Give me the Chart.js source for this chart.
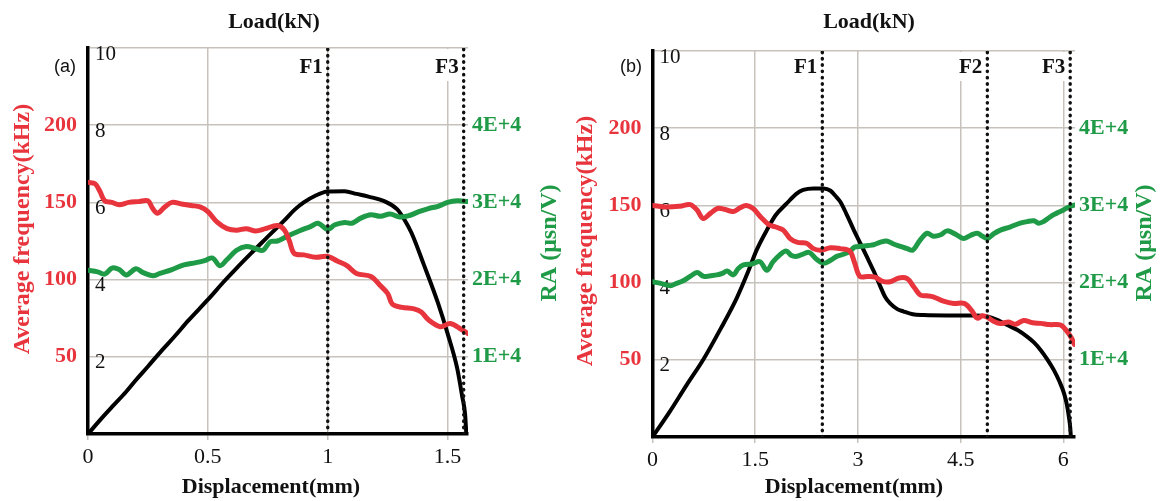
<!DOCTYPE html>
<html>
<head>
<meta charset="utf-8">
<title>Load, average frequency and RA versus displacement</title>
<script src="https://cdn.jsdelivr.net/npm/chart.js@4.4.1/dist/chart.umd.min.js"></script>
<style>
    html, body { margin: 0; padding: 0; background: #fff; }
    #wrap { position: relative; width: 1161px; height: 501px; overflow: hidden; }
    #wrap canvas { position: absolute; top: 0; }
    #chartA { left: 0; }
    #chartB { left: 570px; }
</style>
</head>
<body>
<div id="wrap">
    <canvas id="chartA" width="570" height="501"></canvas>
    <canvas id="chartB" width="591" height="501"></canvas>
</div>
<script>
// ----------------------------------------------------------------------------
// Tick values shared by both panels
// ----------------------------------------------------------------------------
var loadTicks = [2, 4, 6, 8, 10];          // kN
var freqTicks = [50, 100, 150, 200];       // kHz
var raTicks = [10000, 20000, 30000, 40000]; // usn/V
var dispTicksA = [0, 0.5, 1, 1.5];
var dispTicksB = [0, 1.5, 3, 4.5, 6];

// ----------------------------------------------------------------------------
// Panel (a): [displacement mm, value]
// ----------------------------------------------------------------------------
var loadA = [
    [0, 0], [0.05, 0.36], [0.1, 0.7], [0.16, 1.1], [0.2, 1.4], [0.25, 1.75],
    [0.31, 2.18], [0.36, 2.52], [0.42, 2.95], [0.5, 3.48], [0.57, 3.97],
    [0.62, 4.3], [0.68, 4.68], [0.74, 5.05], [0.82, 5.54], [0.86, 5.8],
    [0.9, 6.0], [0.95, 6.18], [1.0, 6.28], [1.07, 6.29], [1.12, 6.22],
    [1.17, 6.15], [1.24, 6.02], [1.29, 5.82], [1.32, 5.55], [1.35, 5.2],
    [1.4, 4.4], [1.46, 3.39], [1.5, 2.6], [1.54, 1.7], [1.56, 1.0],
    [1.573, 0.5], [1.578, 0]
];
var freqA = [
    [0, 163], [0.03, 162], [0.05, 157], [0.07, 151], [0.1, 150], [0.13, 148.5],
    [0.17, 150], [0.21, 150.5], [0.25, 151], [0.27, 146], [0.29, 143],
    [0.32, 147], [0.35, 150], [0.39, 149], [0.43, 148], [0.47, 147],
    [0.5, 144], [0.54, 137], [0.58, 133], [0.62, 132], [0.66, 133],
    [0.7, 131.5], [0.74, 133], [0.79, 135], [0.82, 132], [0.84, 125],
    [0.86, 117], [0.9, 116], [0.95, 114.5], [1.0, 115], [1.04, 112],
    [1.08, 109], [1.12, 104], [1.18, 102], [1.22, 96], [1.25, 91],
    [1.27, 84], [1.31, 82], [1.36, 81], [1.39, 79], [1.42, 74], [1.47, 69.5],
    [1.51, 71.5], [1.55, 68.5], [1.585, 65]
];
var raA = [
    [0, 21200], [0.04, 21000], [0.07, 20700], [0.1, 21500], [0.13, 21300],
    [0.16, 20600], [0.2, 21400], [0.23, 20900], [0.27, 20500], [0.3, 20800],
    [0.35, 21300], [0.4, 21900], [0.45, 22200], [0.49, 22500], [0.52, 22800],
    [0.55, 21800], [0.58, 22600], [0.62, 23800], [0.66, 24300], [0.7, 24000],
    [0.73, 23800], [0.76, 24900], [0.79, 25000], [0.83, 25600], [0.88, 26300],
    [0.93, 26900], [0.96, 27300], [1.0, 26500], [1.03, 27100], [1.07, 27400],
    [1.1, 27300], [1.14, 28000], [1.18, 28400], [1.22, 28200], [1.26, 28500],
    [1.3, 28100], [1.34, 28300], [1.38, 28800], [1.42, 29200], [1.46, 29500],
    [1.5, 30000], [1.54, 30200], [1.585, 30100]
];
var eventsA = [['F1', 1.0], ['F3', 1.567]];

// ----------------------------------------------------------------------------
// Panel (b): [displacement mm, value]
// ----------------------------------------------------------------------------
var loadB = [
    [0, 0], [0.25, 0.65], [0.5, 1.35], [0.74, 2.0], [1.0, 2.82], [1.23, 3.6],
    [1.4, 4.3], [1.52, 4.84], [1.67, 5.36], [1.8, 5.75], [1.96, 6.05],
    [2.1, 6.3], [2.2, 6.4], [2.35, 6.44], [2.5, 6.44], [2.6, 6.38],
    [2.67, 6.25], [2.74, 6.1], [2.84, 5.75], [2.94, 5.36], [3.04, 5.0],
    [3.13, 4.67], [3.23, 4.3], [3.33, 3.89], [3.4, 3.62], [3.47, 3.46],
    [3.57, 3.32], [3.67, 3.25], [3.8, 3.18], [3.96, 3.16], [4.3, 3.15],
    [4.69, 3.15], [4.89, 3.12], [5.05, 3.02], [5.18, 2.9], [5.33, 2.77],
    [5.47, 2.6], [5.57, 2.45], [5.67, 2.25], [5.77, 2.0], [5.86, 1.74],
    [5.94, 1.45], [6.01, 1.13], [6.05, 0.85], [6.08, 0.53], [6.1, 0.25],
    [6.11, 0]
];
var freqB = [
    [0, 150], [0.2, 149], [0.4, 149.5], [0.55, 150.5], [0.65, 147], [0.74, 141.5],
    [0.85, 145], [0.95, 148], [1.05, 147.5], [1.18, 146], [1.28, 148.5],
    [1.37, 150], [1.47, 148], [1.57, 143], [1.7, 137.5], [1.8, 136],
    [1.91, 134], [2.01, 128.5], [2.12, 126], [2.25, 125.5], [2.35, 122],
    [2.45, 121], [2.6, 122.5], [2.74, 122], [2.88, 120.5], [2.95, 113],
    [3.03, 104], [3.15, 104], [3.25, 103.5], [3.35, 101], [3.47, 100.5],
    [3.6, 103], [3.72, 102.5], [3.82, 97], [3.91, 92], [4.0, 91.5],
    [4.1, 90.8], [4.25, 88], [4.4, 86.5], [4.55, 86.5], [4.66, 82],
    [4.74, 77], [4.82, 78.5], [4.89, 77.5], [4.98, 75], [5.08, 73.5],
    [5.2, 74.5], [5.3, 73], [5.42, 75.5], [5.55, 74], [5.67, 73.6],
    [5.8, 72.8], [5.96, 72.5], [6.06, 68], [6.12, 64], [6.16, 60]
];
var raB = [
    [0, 20100], [0.12, 19900], [0.26, 19600], [0.35, 19900], [0.44, 20200],
    [0.55, 20800], [0.65, 21300], [0.75, 20800], [0.85, 20900], [0.94, 21000],
    [1.02, 21200], [1.09, 21500], [1.18, 21000], [1.25, 21800], [1.33, 22300],
    [1.45, 22400], [1.57, 22700], [1.67, 21600], [1.76, 22700], [1.86, 23600],
    [1.95, 24100], [2.03, 23500], [2.11, 23400], [2.2, 23700], [2.29, 23900],
    [2.4, 23000], [2.5, 22500], [2.6, 22900], [2.69, 23400], [2.8, 23700],
    [2.89, 24100], [2.95, 24600], [3.05, 24700], [3.15, 24800], [3.23, 24900],
    [3.32, 25200], [3.42, 25400], [3.52, 25000], [3.62, 24700], [3.72, 24400],
    [3.8, 24200], [3.9, 25400], [4.01, 26400], [4.1, 26000], [4.21, 26200],
    [4.3, 26700], [4.42, 26300], [4.54, 25700], [4.64, 26100], [4.74, 26400],
    [4.82, 26000], [4.89, 25700], [4.98, 26300], [5.08, 26800], [5.22, 27200],
    [5.37, 27700], [5.47, 27900], [5.57, 28000], [5.64, 27700], [5.71, 27900],
    [5.79, 28400], [5.86, 28800], [5.93, 29100], [6.0, 29400], [6.08, 29800],
    [6.16, 30050]
];
var eventsB = [['F1', 2.48], ['F2', 4.89], ['F3', 6.1]];

(function () {
    'use strict';

    var SERIF = '"Liberation Serif", "DejaVu Serif", "Times New Roman", serif';
    var SANS = '"Liberation Sans", Arial, sans-serif';
    var RED = '#e8343c';
    var GREEN = '#1f9a46';
    var GRID = '#c8c2bc';
    var INK = '#111';

    // Convert [x, y] pairs into the point objects the line controller parses
    function toPoints(pairs) {
        return pairs.map(function (p) { return { x: p[0], y: p[1] }; });
    }

    // Replace the generated ticks of a scale with a fixed list of values
    function fixedTicks(values) {
        return function (scale) {
            scale.ticks = values.map(function (v) { return { value: v }; });
        };
    }

    function drawLabel(ctx, text, x, y, font, color, rotate) {
        ctx.save();
        ctx.translate(x, y);
        if (rotate) ctx.rotate(-Math.PI / 2);
        ctx.font = font;
        ctx.fillStyle = color;
        ctx.textAlign = 'center';
        ctx.textBaseline = 'middle';
        ctx.fillText(text, 0, 0);
        ctx.restore();
    }

    // Event markers (F1, F2, F3) and the axis titles of each panel
    var panelText = {
        id: 'panelText',
        beforeDatasetsDraw: function (chart, args, opts) {
            var ctx = chart.ctx;
            var xs = chart.scales.x;
            var top = chart.chartArea.top;
            ctx.save();
            ctx.font = 'bold 21px ' + SERIF;
            ctx.textAlign = 'right';
            ctx.textBaseline = 'middle';
            opts.events.forEach(function (ev) {
                var px = xs.getPixelForValue(ev[1]);
                var w = ctx.measureText(ev[0]).width;
                // white patch interrupts the grid under the marker name
                ctx.fillStyle = '#fff';
                ctx.fillRect(px - 6 - w, top + 1, w + 4, 80 - top);
                ctx.fillStyle = INK;
                ctx.fillText(ev[0], px - 5, opts.eventY);
            });
            ctx.restore();
        },
        afterDraw: function (chart, args, opts) {
            var ctx = chart.ctx;
            var t = opts.titles;
            drawLabel(ctx, opts.tag, t.tag[0], t.tag[1], '18px ' + SANS, INK, false);
            drawLabel(ctx, 'Load(kN)', t.load[0], t.load[1], 'bold 22px ' + SERIF, INK, false);
            drawLabel(ctx, 'Displacement(mm)', t.disp[0], t.disp[1], 'bold 22px ' + SERIF, INK, false);
            drawLabel(ctx, 'Average frequency(kHz)', t.freq[0], t.freq[1], 'bold 24px ' + SERIF, RED, true);
            drawLabel(ctx, 'RA (\u03bcsn/V)', t.ra[0], t.ra[1], 'bold 24px ' + SERIF, GREEN, true);
        }
    };

    // Dotted vertical line spanning the full load range at one displacement
    function eventLine(ev) {
        return {
            label: ev[0],
            data: [{ x: ev[1], y: 0 }, { x: ev[1], y: 10 }],
            yAxisID: 'load',
            borderColor: '#111',
            borderWidth: 3.4,
            borderDash: [0.5, 5.8],
            borderCapStyle: 'round',
            pointRadius: 0
        };
    }

    function curve(label, pairs, axis, color, width, smooth) {
        var ds = {
            label: label,
            data: toPoints(pairs),
            yAxisID: axis,
            borderColor: color,
            borderWidth: width,
            pointRadius: 0,
            borderCapStyle: 'round',
            borderJoinStyle: 'round'
        };
        if (smooth === 'monotone') {
            ds.cubicInterpolationMode = 'monotone';
        } else {
            ds.tension = 0.35;
        }
        return ds;
    }

    function buildPanel(canvasId, spec) {
        var datasets = spec.events.map(eventLine).concat([
            curve('Average frequency', spec.freq, 'freq', RED, 5),
            curve('RA', spec.ra, 'ra', GREEN, 5),
            curve('Load', spec.load, 'load', '#000', 4, 'monotone')
        ]);

        return new Chart(document.getElementById(canvasId), {
            type: 'line',
            data: { datasets: datasets },
            plugins: [panelText],
            options: {
                responsive: false,
                animation: false,
                devicePixelRatio: 1,
                layout: { padding: { top: spec.area.top, left: 0, right: 0, bottom: 0 } },
                plugins: {
                    legend: { display: false },
                    tooltip: { enabled: false },
                    panelText: {
                        tag: spec.tag,
                        events: spec.events,
                        eventY: spec.eventY,
                        titles: spec.titles
                    }
                },
                scales: {
                    x: {
                        type: 'linear',
                        position: 'bottom',
                        min: 0,
                        max: spec.xMax,
                        afterBuildTicks: fixedTicks(spec.xTicks),
                        afterFit: function (s) { s.height = spec.area.bottom; },
                        grid: { color: GRID, lineWidth: 1.5, tickLength: 6 },
                        border: { color: '#000', width: 3.5 },
                        ticks: {
                            autoSkip: false,
                            maxRotation: 0,
                            padding: 4,
                            color: INK,
                            font: { family: SERIF, size: 22 },
                            callback: function (v) { return String(v); }
                        }
                    },
                    load: {
                        type: 'linear',
                        position: 'left',
                        weight: 0,
                        min: 0,
                        max: 10,
                        afterBuildTicks: fixedTicks(loadTicks),
                        afterFit: function (s) { s.width = 0; },
                        grid: { color: GRID, lineWidth: 1.5, drawTicks: false },
                        border: { color: '#000', width: 3.5 },
                        ticks: {
                            mirror: true,
                            autoSkip: false,
                            padding: 7,
                            labelOffset: 6,
                            color: INK,
                            font: { family: SERIF, size: 21 }
                        }
                    },
                    freq: {
                        type: 'linear',
                        position: 'left',
                        weight: 1,
                        min: 0,
                        max: 250,
                        afterBuildTicks: fixedTicks(freqTicks),
                        afterFit: function (s) { s.width = spec.area.left; },
                        grid: { display: false, drawTicks: false },
                        border: { display: false },
                        ticks: {
                            autoSkip: false,
                            padding: 11,
                            color: RED,
                            font: { family: SERIF, size: 22, weight: 'bold' }
                        }
                    },
                    ra: {
                        type: 'linear',
                        position: 'right',
                        min: 0,
                        max: 50000,
                        afterBuildTicks: fixedTicks(raTicks),
                        afterFit: function (s) { s.width = spec.area.right; },
                        grid: { display: false, drawTicks: false },
                        border: { display: false },
                        ticks: {
                            autoSkip: false,
                            padding: 4,
                            color: GREEN,
                            font: { family: SERIF, size: 22, weight: 'bold' },
                            callback: function (v) { return (v / 10000) + 'E+4'; }
                        }
                    }
                }
            }
        });
    }

    buildPanel('chartA', {
        tag: '(a)',
        load: loadA, freq: freqA, ra: raA, events: eventsA,
        xMax: 1.585, xTicks: dispTicksA,
        area: { left: 88, right: 102, top: 48, bottom: 67 },
        eventY: 68,
        titles: { tag: [65, 67], load: [274, 22], disp: [271, 487], freq: [23, 229], ra: [550, 243] }
    });

    buildPanel('chartB', {
        tag: '(b)',
        load: loadB, freq: freqB, ra: raB, events: eventsB,
        xMax: 6.17, xTicks: dispTicksB,
        area: { left: 82.5, right: 86, top: 51, bottom: 64 },
        eventY: 68,
        titles: { tag: [61, 67], load: [299, 22], disp: [284, 487], freq: [16, 241], ra: [575, 243] }
    });
})();
</script>
</body>
</html>
